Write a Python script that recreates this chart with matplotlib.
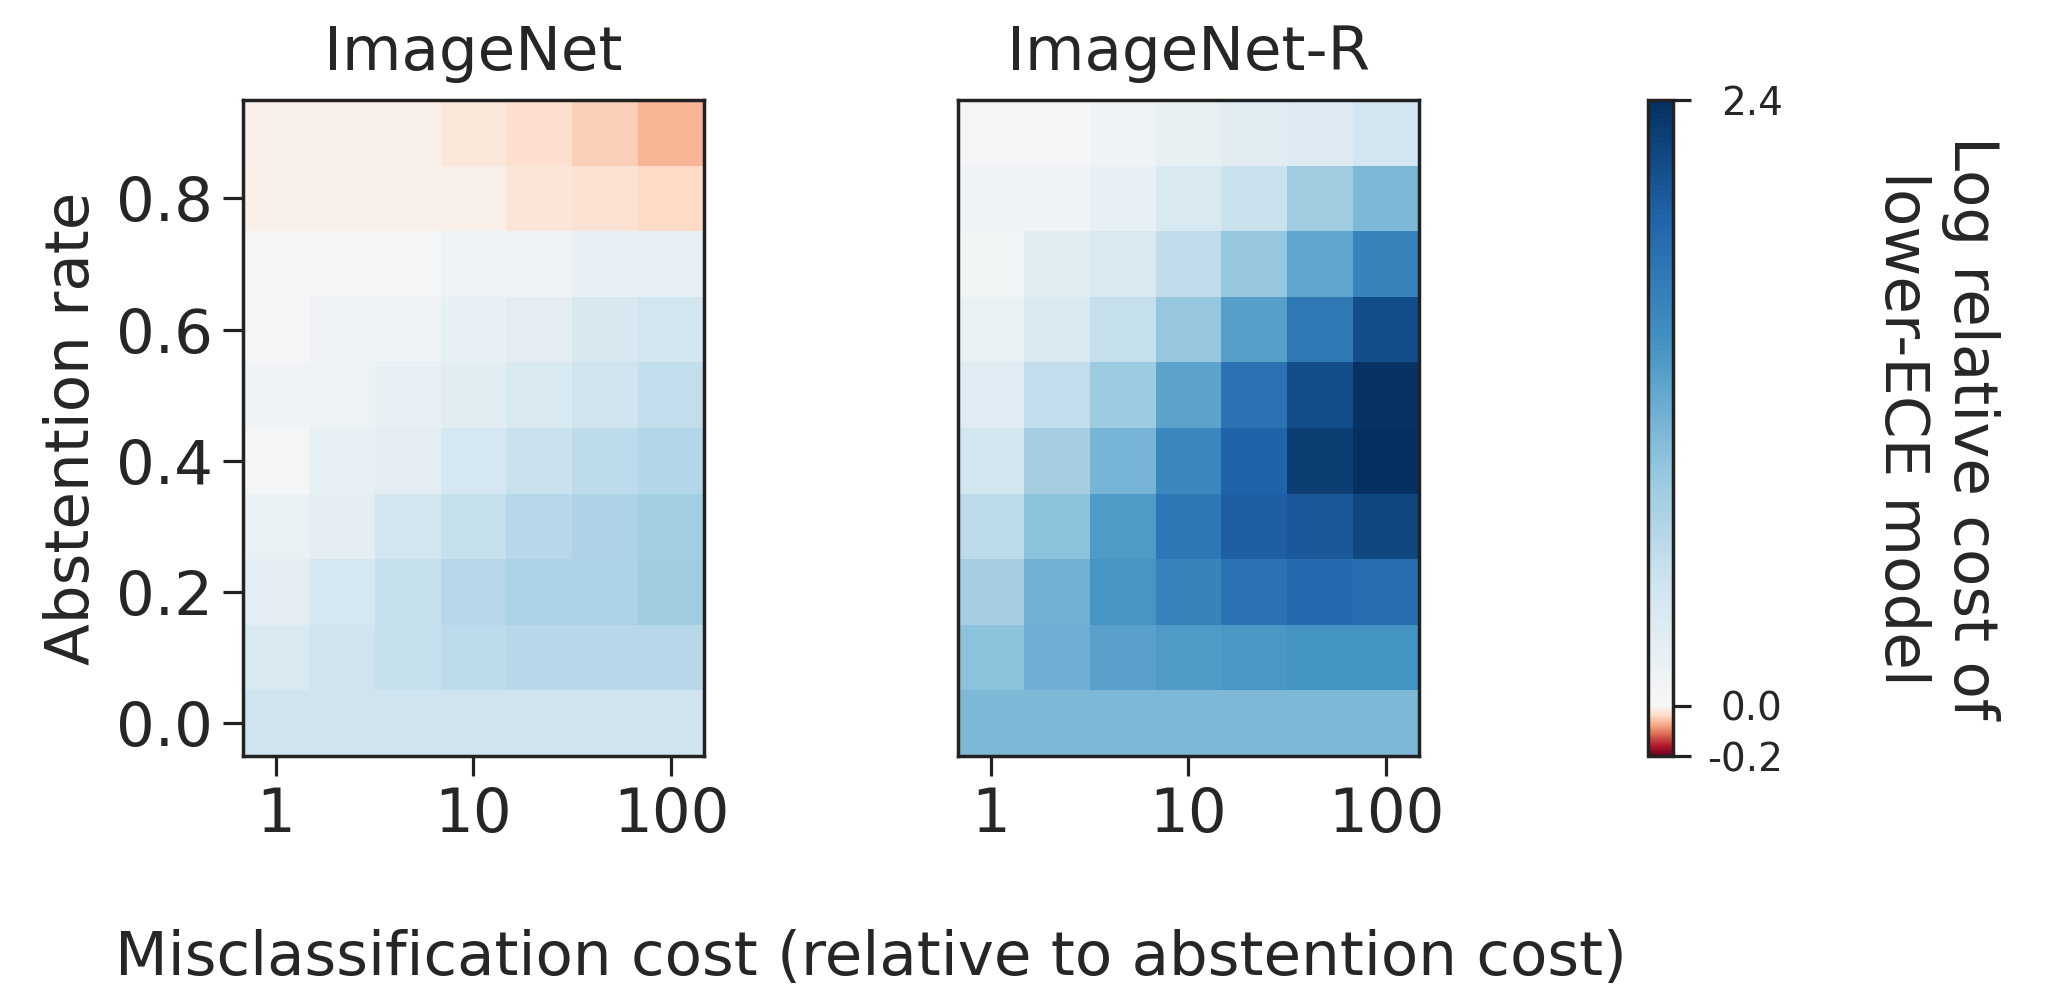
import numpy as np
import matplotlib
matplotlib.use("Agg")
import matplotlib.pyplot as plt
from matplotlib.colors import TwoSlopeNorm

# Misclassification cost grid (three log steps per decade) and abstention rates
costs = [1.0, 2.154, 4.642, 10.0, 21.54, 46.42, 100.0]
abstention_rates = [0.0, 0.1, 0.2, 0.3, 0.4, 0.5, 0.6, 0.7, 0.8, 0.9]

# Log relative cost of the lower-ECE model; one row per abstention rate (0.0 -> 0.9)
imagenet = [
    [0.50, 0.50, 0.50, 0.50, 0.50, 0.50, 0.50],
    [0.38, 0.50, 0.58, 0.62, 0.67, 0.67, 0.67],
    [0.25, 0.42, 0.56, 0.69, 0.75, 0.75, 0.85],
    [0.15, 0.24, 0.45, 0.56, 0.67, 0.74, 0.84],
    [0.05, 0.19, 0.25, 0.42, 0.53, 0.62, 0.71],
    [0.11, 0.12, 0.19, 0.27, 0.38, 0.50, 0.59],
    [0.03, 0.10, 0.10, 0.19, 0.25, 0.40, 0.46],
    [0.02, 0.02, 0.02, 0.10, 0.10, 0.19, 0.19],
    [-0.012, -0.012, -0.012, -0.012, -0.026, -0.030, -0.040],
    [-0.010, -0.010, -0.010, -0.024, -0.033, -0.049, -0.068],
]

imagenet_r = [
    [1.07, 1.07, 1.07, 1.07, 1.07, 1.07, 1.07],
    [0.98, 1.18, 1.30, 1.36, 1.39, 1.43, 1.44],
    [0.81, 1.15, 1.42, 1.60, 1.77, 1.86, 1.82],
    [0.62, 0.98, 1.36, 1.74, 1.97, 2.04, 2.18],
    [0.46, 0.81, 1.11, 1.54, 1.94, 2.28, 2.40],
    [0.29, 0.59, 0.88, 1.28, 1.78, 2.13, 2.38],
    [0.15, 0.39, 0.58, 0.93, 1.33, 1.72, 2.13],
    [0.06, 0.27, 0.39, 0.60, 0.91, 1.27, 1.61],
    [0.11, 0.11, 0.20, 0.39, 0.54, 0.85, 1.08],
    [0.04, 0.05, 0.11, 0.18, 0.28, 0.30, 0.44],
]

panel_titles = ["ImageNet", "ImageNet-R"]
xtick_values = [1, 10, 100]
xtick_labels = ["1", "10", "100"]
ytick_values = [0.0, 0.2, 0.4, 0.6, 0.8]
ytick_labels = ["0.0", "0.2", "0.4", "0.6", "0.8"]
cbar_ticks = [-0.2, 0.0, 2.4]
cbar_ticklabels = ["-0.2", "0.0", "2.4"]
cbar_label = "Log relative cost of\nlower-ECE model"
xlabel = "Misclassification cost (relative to abstention cost)"
ylabel = "Abstention rate"

TEXT = "#262626"
SPINE = "#222222"
plt.rcParams.update({
    "font.family": ["DejaVu Sans"],
    "font.size": 44,
    "text.color": TEXT,
    "axes.labelcolor": TEXT,
    "xtick.color": SPINE,
    "ytick.color": SPINE,
    "xtick.labelcolor": TEXT,
    "ytick.labelcolor": TEXT,
})


def cell_edges_log(centers):
    lc = np.log10(np.asarray(centers, dtype=float))
    mid = (lc[:-1] + lc[1:]) / 2
    e = np.concatenate([[lc[0] - (mid[0] - lc[0])], mid, [lc[-1] + (lc[-1] - mid[-1])]])
    return 10 ** e


def cell_edges_lin(centers):
    c = np.asarray(centers, dtype=float)
    mid = (c[:-1] + c[1:]) / 2
    return np.concatenate([[c[0] - (mid[0] - c[0])], mid, [c[-1] + (c[-1] - mid[-1])]])


x_edges = cell_edges_log(costs)
y_edges = cell_edges_lin(abstention_rates)
norm = TwoSlopeNorm(vmin=-0.2, vcenter=0.0, vmax=2.4)
cmap = plt.get_cmap("RdBu")

W, H = 2064, 988
fig = plt.figure(figsize=(W / 100, H / 100), dpi=100)

ax_w = 461 / W
ax_b = (H - 756) / H
ax_h = 656 / H
axes = [fig.add_axes([243 / W, ax_b, ax_w, ax_h]),
        fig.add_axes([958 / W, ax_b, ax_w, ax_h])]

mesh = None
for i, (ax, data, title) in enumerate(zip(axes, [imagenet, imagenet_r], panel_titles)):
    mesh = ax.pcolormesh(x_edges, y_edges, np.asarray(data), cmap=cmap, norm=norm,
                         shading="flat", antialiased=False, linewidth=0)
    ax.set_xscale("log")
    ax.set_xlim(x_edges[0], x_edges[-1])
    ax.set_ylim(y_edges[0], y_edges[-1])
    ax.set_xticks(xtick_values)
    ax.set_xticklabels(xtick_labels)
    ax.xaxis.set_minor_locator(matplotlib.ticker.NullLocator())
    ax.tick_params(axis="x", length=14.5, width=2.3, pad=7, labelsize=44)
    if i == 0:
        ax.set_yticks(ytick_values)
        ax.set_yticklabels(ytick_labels)
        ax.tick_params(axis="y", length=14.5, width=2.3, pad=7, labelsize=44)
        ax.set_ylabel(ylabel, fontsize=44, labelpad=10)
    else:
        ax.set_yticks([])
    ax.set_title(title, fontsize=44, pad=21.5)
    for sp in ax.spines.values():
        sp.set_linewidth(2.5)
        sp.set_color(SPINE)

cax = fig.add_axes([1648 / W, ax_b, 25 / W, ax_h])
cb = fig.colorbar(mesh, cax=cax)
cb.ax.set_yscale("linear")
cb.set_ticks(cbar_ticks)
cb.set_ticklabels(cbar_ticklabels)
cb.ax.tick_params(length=13, width=2.3, pad=66, labelsize=28)
for lab in cb.ax.get_yticklabels():
    lab.set_horizontalalignment("right")
cb.outline.set_linewidth(2.5)
cb.outline.set_edgecolor(SPINE)

fig.text(1936 / W, 1 - 428 / H, cbar_label, rotation=270, ha="center", va="center",
         multialignment="center", fontsize=44)
fig.text(871 / W, 1 - 958 / H, xlabel, ha="center", va="center", fontsize=44)

fig.savefig("out.png", dpi=100)
